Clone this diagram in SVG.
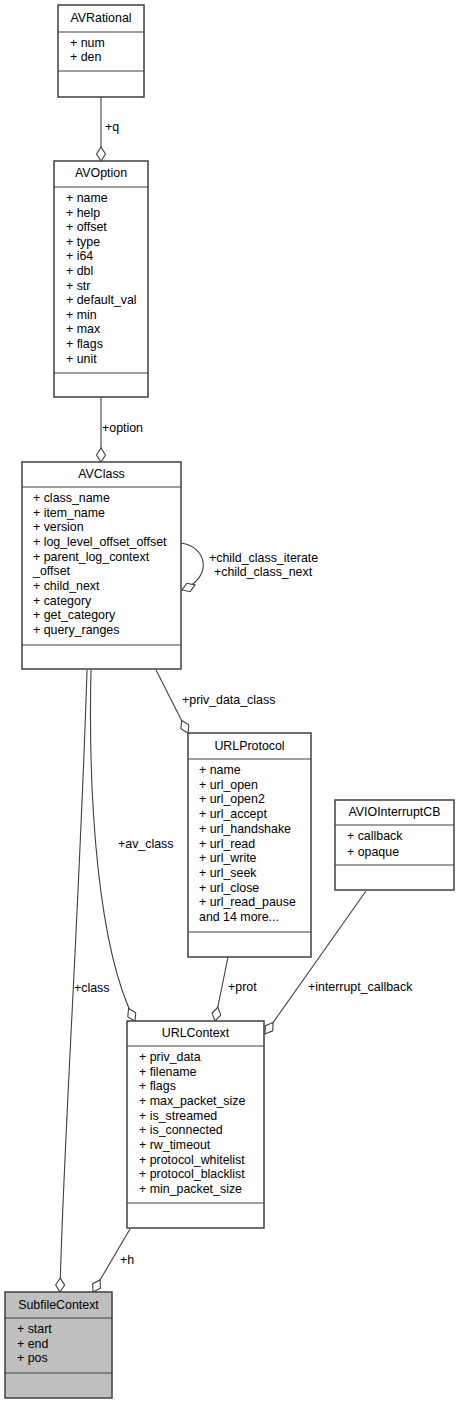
<svg xmlns="http://www.w3.org/2000/svg" width="459" height="1404" viewBox="0 0 459 1404">
<style>
text{font-family:"Liberation Sans",Arial,sans-serif;font-size:12.4px;fill:#000}
.t{text-anchor:middle}
.box{fill:#fff;stroke:#404040;stroke-width:1.5}
.cur{fill:#bfbfbf;stroke:#404040;stroke-width:1.5}
.sep{stroke:#404040;stroke-width:1.2}
.edge{fill:none;stroke:#404040;stroke-width:1.1}
</style>
<defs>
<marker id="dia" markerUnits="userSpaceOnUse" markerWidth="16" markerHeight="10" viewBox="0 -5 16 10" refX="15" refY="0" orient="auto">
<path d="M1,0 L8,-4.5 L15,0 L8,4.5 Z" fill="#fff" stroke="#404040" stroke-width="1.1"/>
</marker>
</defs>
<g id="connectors">
<path class="edge" d="M101,97 L101,161" marker-end="url(#dia)"/>
<text x="105" y="131">+q</text>
<path class="edge" d="M101,397 L101,462" marker-end="url(#dia)"/>
<text x="102" y="432">+option</text>
<path class="edge" d="M181,543 C208,547 213,578 182,590" marker-end="url(#dia)"/>
<text x="209" y="562">+child_class_iterate</text>
<text x="214" y="576">+child_class_next</text>
<path class="edge" d="M156,670 L188,733" marker-end="url(#dia)"/>
<text x="182" y="704">+priv_data_class</text>
<path class="edge" d="M91,670 C88,800 98,950 135,1021" marker-end="url(#dia)"/>
<text x="118" y="848">+av_class</text>
<path class="edge" d="M87,670 C80,900 63,1150 60,1292" marker-end="url(#dia)"/>
<text x="74" y="992">+class</text>
<path class="edge" d="M228,957 L215,1021" marker-end="url(#dia)"/>
<text x="228" y="991">+prot</text>
<path class="edge" d="M366,891 L265,1034" marker-end="url(#dia)"/>
<text x="308" y="991">+interrupt_callback</text>
<path class="edge" d="M130,1229 L93,1292" marker-end="url(#dia)"/>
<text x="120" y="1264">+h</text>
</g>
<g id="AVRational">
<rect class="box" x="58" y="5" width="86" height="92"/>
<line class="sep" x1="58" y1="32" x2="144" y2="32"/>
<line class="sep" x1="58" y1="71" x2="144" y2="71"/>
<text class="t" x="101" y="22">AVRational</text>
<text x="70" y="47">+ num</text>
<text x="70" y="61">+ den</text>
</g>
<g id="AVOption">
<rect class="box" x="54" y="161" width="94" height="236"/>
<line class="sep" x1="54" y1="187" x2="148" y2="187"/>
<line class="sep" x1="54" y1="373" x2="148" y2="373"/>
<text class="t" x="101" y="177">AVOption</text>
<text x="66" y="202">+ name</text>
<text x="66" y="216.6">+ help</text>
<text x="66" y="231.2">+ offset</text>
<text x="66" y="245.8">+ type</text>
<text x="66" y="260.4">+ i64</text>
<text x="66" y="275">+ dbl</text>
<text x="66" y="289.6">+ str</text>
<text x="66" y="304.2">+ default_val</text>
<text x="66" y="318.8">+ min</text>
<text x="66" y="333.4">+ max</text>
<text x="66" y="348">+ flags</text>
<text x="66" y="362.6">+ unit</text>
</g>
<g id="AVClass">
<rect class="box" x="22" y="462" width="159" height="207"/>
<line class="sep" x1="22" y1="487" x2="181" y2="487"/>
<line class="sep" x1="22" y1="645" x2="181" y2="645"/>
<text class="t" x="101.5" y="478">AVClass</text>
<text x="33" y="502">+ class_name</text>
<text x="33" y="516.7">+ item_name</text>
<text x="33" y="531.3">+ version</text>
<text x="33" y="546">+ log_level_offset_offset</text>
<text x="33" y="560.7">+ parent_log_context</text>
<text x="33" y="575.3">_offset</text>
<text x="33" y="590">+ child_next</text>
<text x="33" y="604.7">+ category</text>
<text x="33" y="619.3">+ get_category</text>
<text x="33" y="634">+ query_ranges</text>
</g>
<g id="URLProtocol">
<rect class="box" x="188" y="733" width="123" height="224"/>
<line class="sep" x1="188" y1="759" x2="311" y2="759"/>
<line class="sep" x1="188" y1="932" x2="311" y2="932"/>
<text class="t" x="249.5" y="750">URLProtocol</text>
<text x="199" y="774">+ name</text>
<text x="199" y="788.7">+ url_open</text>
<text x="199" y="803.4">+ url_open2</text>
<text x="199" y="818.1">+ url_accept</text>
<text x="199" y="832.8">+ url_handshake</text>
<text x="199" y="847.5">+ url_read</text>
<text x="199" y="862.2">+ url_write</text>
<text x="199" y="876.9">+ url_seek</text>
<text x="199" y="891.6">+ url_close</text>
<text x="199" y="906.3">+ url_read_pause</text>
<text x="199" y="921">and 14 more...</text>
</g>
<g id="AVIOInterruptCB">
<rect class="box" x="335" y="800" width="119" height="90"/>
<line class="sep" x1="335" y1="825" x2="454" y2="825"/>
<line class="sep" x1="335" y1="865" x2="454" y2="865"/>
<text class="t" x="394.5" y="816">AVIOInterruptCB</text>
<text x="347" y="840">+ callback</text>
<text x="347" y="856">+ opaque</text>
</g>
<g id="URLContext">
<rect class="box" x="127" y="1021" width="137" height="207"/>
<line class="sep" x1="127" y1="1046" x2="264" y2="1046"/>
<line class="sep" x1="127" y1="1203" x2="264" y2="1203"/>
<text class="t" x="195.5" y="1037">URLContext</text>
<text x="139" y="1061">+ priv_data</text>
<text x="139" y="1075.7">+ filename</text>
<text x="139" y="1090.3">+ flags</text>
<text x="139" y="1105">+ max_packet_size</text>
<text x="139" y="1119.7">+ is_streamed</text>
<text x="139" y="1134.3">+ is_connected</text>
<text x="139" y="1149">+ rw_timeout</text>
<text x="139" y="1163.7">+ protocol_whitelist</text>
<text x="139" y="1178.3">+ protocol_blacklist</text>
<text x="139" y="1193">+ min_packet_size</text>
</g>
<g id="SubfileContext">
<rect class="cur" x="5" y="1292" width="107" height="106"/>
<line class="sep" x1="5" y1="1318" x2="112" y2="1318"/>
<line class="sep" x1="5" y1="1373" x2="112" y2="1373"/>
<text class="t" x="58.5" y="1309">SubfileContext</text>
<text x="17" y="1333">+ start</text>
<text x="17" y="1348">+ end</text>
<text x="17" y="1362">+ pos</text>
</g>
</svg>
